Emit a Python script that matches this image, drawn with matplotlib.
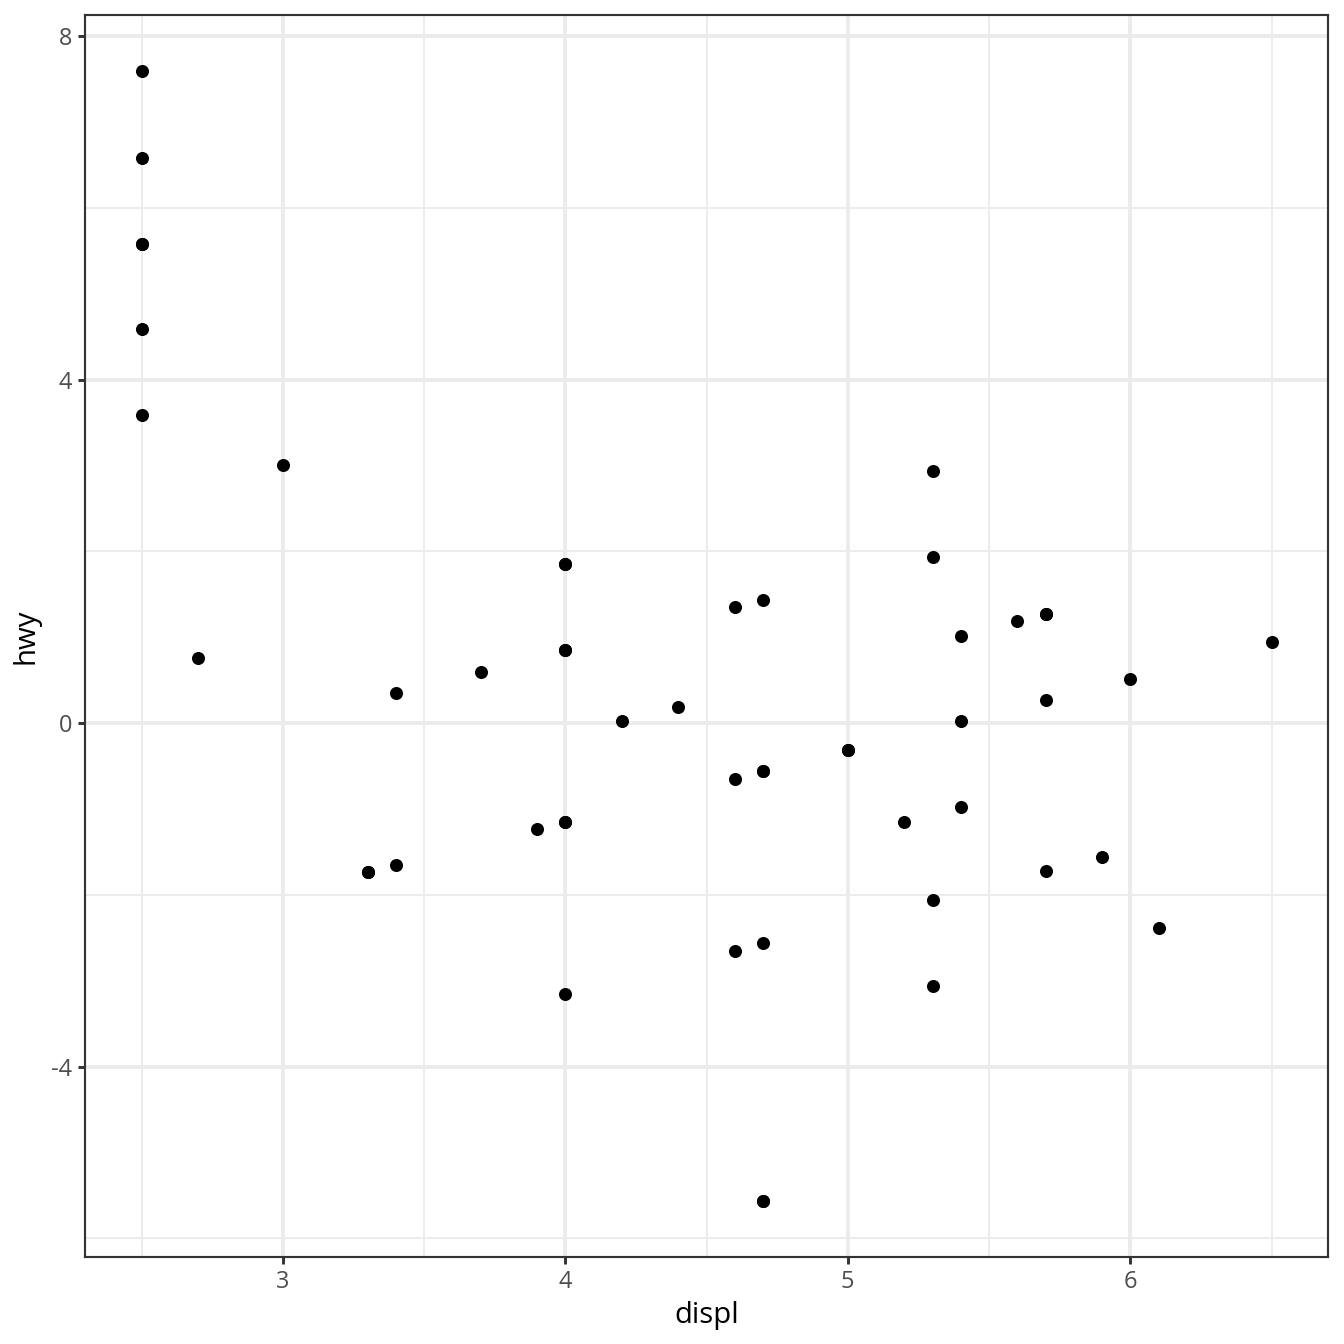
import matplotlib
matplotlib.use('Agg')
from matplotlib import pyplot as plt
from matplotlib import ticker
import numpy as np

# residuals
displ = [2.5, 2.5, 2.5, 2.5, 2.5, 2.5, 3.0, 2.7, 3.4, 3.3, 3.3, 3.4, 3.7, 3.9,
         4.0, 4.0, 4.0, 4.0, 4.0, 4.0, 4.0, 4.2, 4.4, 4.6, 4.6, 4.6, 4.7, 4.7, 4.7,
         4.7, 4.7, 4.7, 5.0, 5.0, 5.2, 5.3, 5.3, 5.3, 5.3, 5.4, 5.4, 5.4,
         5.6, 5.7, 5.7, 5.7, 5.7, 5.9, 6.0, 6.1, 6.5]
hwy = [7.59, 6.58, 5.58, 5.58, 4.59, 3.59, 3.01, 0.76, 0.35, -1.73, -1.73, -1.65,
       0.59, -1.23, 1.85, 1.85, 0.85, 0.85, -1.15, -1.15, -3.15, 0.02, 0.19, 1.35,
       -0.65, -2.65, 1.43, -0.56, -0.56, -2.56, -5.56, -5.56, -0.31, -0.31,
       -1.15, 2.94, 1.94, -2.06, -3.06, 1.02, 0.02, -0.98, 1.19, 1.27, 1.27,
       0.27, -1.72, -1.56, 0.52, -2.38, 0.94]

x_major = [3, 4, 5, 6]
x_minor = [2.5, 3.5, 4.5, 5.5, 6.5]
y_major = [-4, 0, 4, 8]
y_minor = [-6, -2, 2, 6]

plt.rcParams['font.family'] = ['Open Sans', 'DejaVu Sans']

fig = plt.figure(figsize=(7, 7), dpi=192)
ax = fig.add_axes([85/1344, 1 - 1257/1344, (1328-85)/1344, (1257-15)/1344])

## limits with 5% padding like ggplot
xr = max(displ) - min(displ)
yr = max(hwy) - min(hwy)
ax.set_xlim(min(displ) - 0.05*xr, max(displ) + 0.05*xr)
ax.set_ylim(min(hwy) - 0.05*yr, max(hwy) + 0.05*yr)

ax.xaxis.set_major_locator(ticker.FixedLocator(x_major))
ax.xaxis.set_minor_locator(ticker.FixedLocator(x_minor))
ax.yaxis.set_major_locator(ticker.FixedLocator(y_major))
ax.yaxis.set_minor_locator(ticker.FixedLocator(y_minor))
ax.yaxis.set_major_formatter(ticker.FuncFormatter(lambda v, pos: '{0:g}'.format(v)))
ax.xaxis.set_major_formatter(ticker.FuncFormatter(lambda v, pos: '{0:g}'.format(v)))

ax.grid(which='major', color='#EBEBEB', linewidth=1.4)
ax.grid(which='minor', color='#EBEBEB', linewidth=0.7)
ax.set_axisbelow(True)

ax.scatter(displ, hwy, s=24, color='black', linewidths=0, zorder=3)

for sp in ax.spines.values():
    sp.set_color('#333333')
    sp.set_linewidth(0.8)

ax.tick_params(which='major', length=2.75, width=1.1, color='#333333',
               labelsize=8.8, labelcolor='#4D4D4D', pad=2.2)
ax.tick_params(which='minor', length=0)

ax.set_xlabel('displ', fontsize=11, labelpad=2.5)
ax.set_ylabel('hwy', fontsize=11, labelpad=4)

fig.savefig('out.png', dpi=192)
